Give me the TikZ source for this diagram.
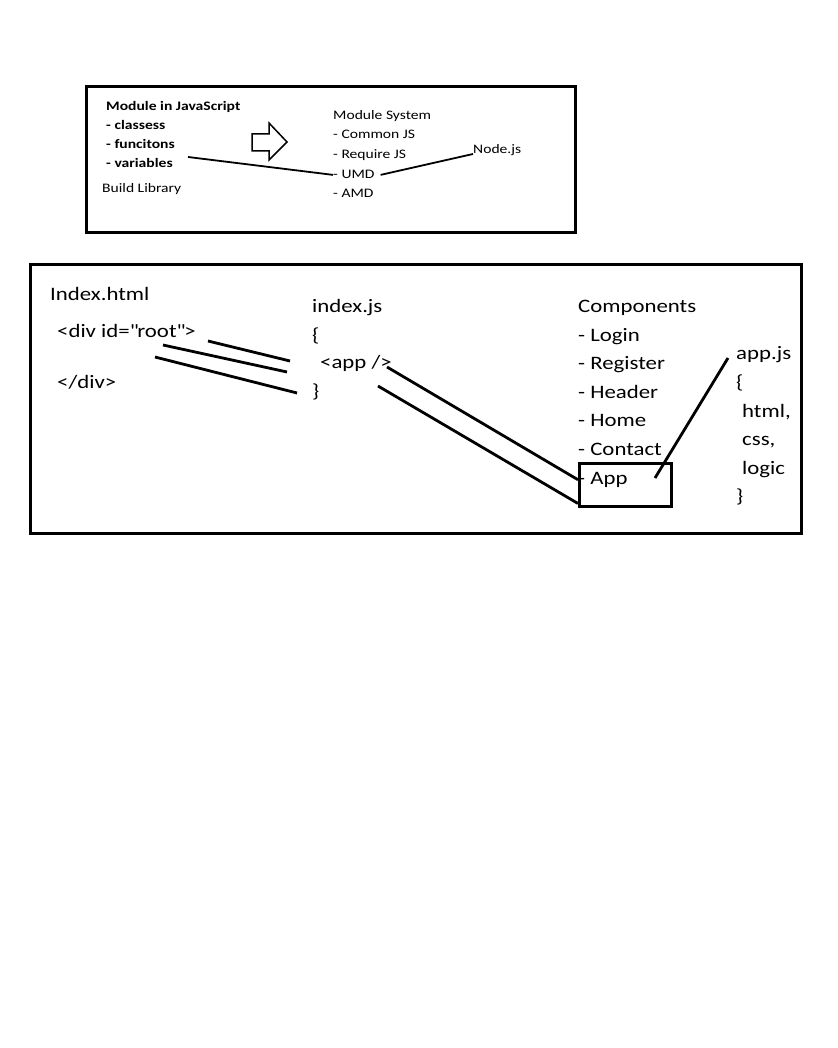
\documentclass[tikz,border=0pt]{standalone}
\usepackage{fontspec}
\setmainfont[FakeStretch=1.2]{Carlito}

\begin{document}
\begin{tikzpicture}[x=1pt, y=-1pt, every node/.style={anchor=base west, inner sep=0pt},
    small/.style={font=\fontsize{13}{15}\selectfont},
    smallbold/.style={font=\fontsize{13}{15}\selectfont\bfseries},
    big/.style={font=\fontsize{19}{22}\selectfont},
    frame/.style={line width=3pt},
    thin line/.style={line width=1.8pt},
    thick line/.style={line width=2.8pt}]
                \useasboundingbox[fill=white] (0,0) rectangle (837,1048);

                % Frames
                \draw[frame] (86,87) rectangle (575,233);
                \draw[frame] (30,265) rectangle (801,533);

                % Nodes (top)
                \node[smallbold] at (106,111) (title) {Module in JavaScript};
                \node[smallbold] at (106,130) (classes) {- classess};
                \node[smallbold] at (106,149) (funcs) {- funcitons};
                \node[smallbold] at (106,168) (vars) {- variables};
                \node[small] at (102,193) (build) {Build Library};
                \node[small] at (333,120) (modsys) {Module System};
                \node[small] at (333,139) (common) {- Common JS};
                \node[small] at (333,159) (require) {- Require JS};
                \node[small] at (333,179) (umd) {- UMD};
                \node[small] at (333,198) (amd) {- AMD};
                \node[small] at (473,154) (nodejs) {Node.js};
                \coordinate (lib) at (188,157);

                % Arrow
                \draw[line width=1.5pt, line join=miter] (252,134) -- (269,134) -- (269,123) -- (287,142)
                    -- (269,160) -- (269,151) -- (252,151) -- cycle;

                % Nodes (bottom)
                \node[big] at (50,300) (indexhtml) {Index.html};
                \node[big] at (57,337) (divopen) {<div id=\textquotedbl root\textquotedbl>};
                \node[big] at (57,388) (divclose) {</div>};
                \node[big] at (312,312) (indexjs) {index.js};
                \node[big] at (312,341) (bropen) {\{};
                \node[big] at (320,368) (apptag) {<app />};
                \node[big] at (312,397) (brclose) {\}};
                \node[big] at (578,312) (comps) {Components};
                \node[big] at (578,341) (login) {- Login};
                \node[big] at (578,369) (register) {- Register};
                \node[big] at (578,398) (header) {- Header};
                \node[big] at (578,426) (home) {- Home};
                \node[big] at (578,455) (contact) {- Contact};
                \node[big] at (578,484) (app) {- App};
                \node[draw, line width=2.5pt, anchor=north west, minimum width=92pt, minimum height=43pt] at (578,462) (appbox) {};
                \node[big] at (736,359) (appjs) {app.js};
                \node[big] at (736,388) (jsopen) {\{};
                \node[big] at (742,417) (html) {html,};
                \node[big] at (742,445) (css) {css,};
                \node[big] at (742,474) (logic) {logic};
                \node[big] at (736,502) (jsclose) {\}};

                % Free ends
                \coordinate (root1) at (208,341);
                \coordinate (root2) at (163,345);
                \coordinate (root3) at (155,357);
                \coordinate (js1) at (290,361);
                \coordinate (js2) at (287,372);
                \coordinate (js3) at (297,393);
                \coordinate (tag1) at (387,367);
                \coordinate (tag2) at (378,386);
                \coordinate (inapp) at (655,478);
                \coordinate (tojs) at (728,358);

                % Edges
                \draw[thin line] (lib) -- (umd.west);

                \draw[thin line] ([xshift=6pt]umd.east) -- (nodejs.base west);

                \draw[thick line] (root1) -- (js1);

                \draw[thick line] (root2) -- (js2);

                \draw[thick line] (root3) -- (js3);

                \draw[thick line] (tag1) -- ([yshift=5pt]appbox.west);

                \draw[thick line] (tag2) -- ([yshift=4pt]appbox.south west);

                \draw[thick line] (inapp) -- (tojs);
            \end{tikzpicture}
\end{document}
